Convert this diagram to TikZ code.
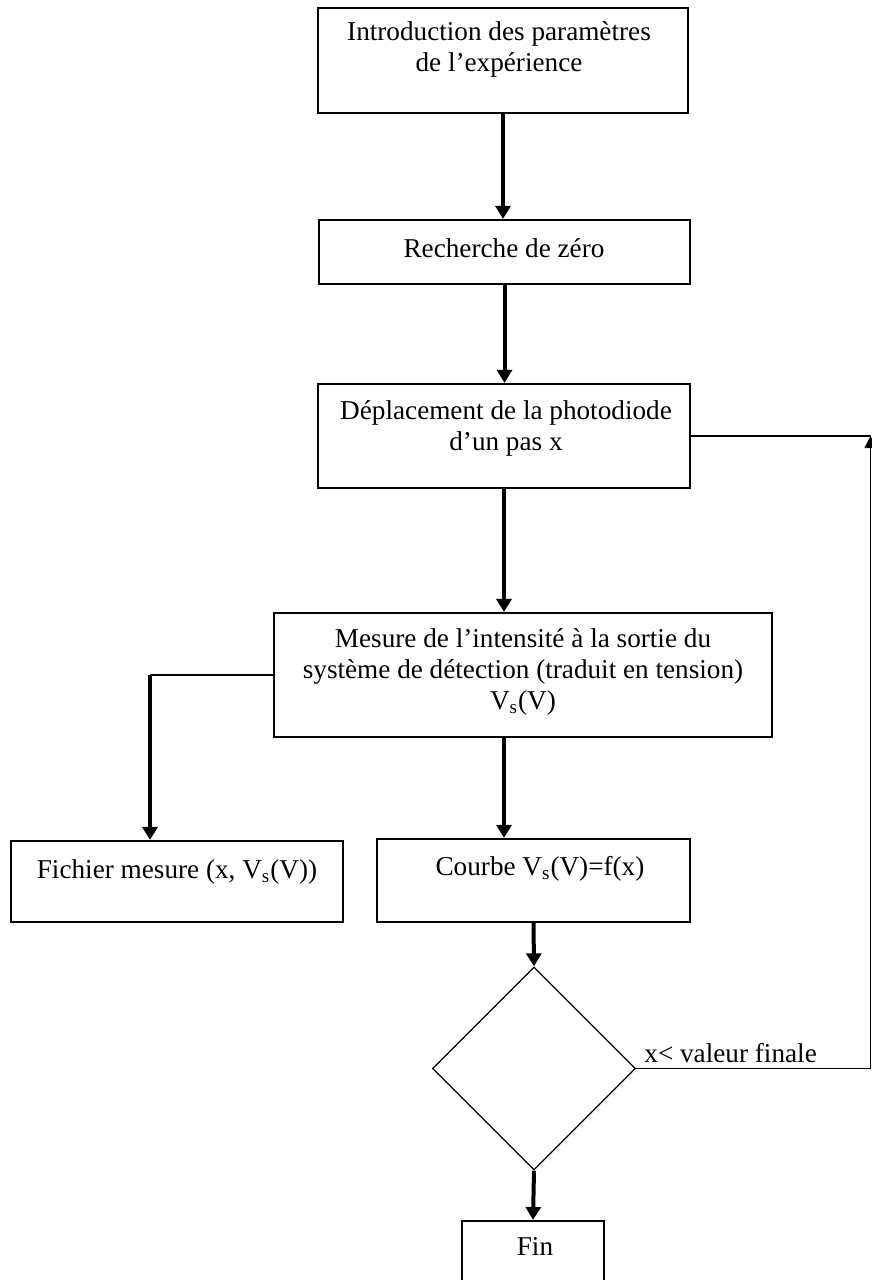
\documentclass[tikz,border=0pt]{standalone}
\usepackage{fontspec}
\setmainfont{Liberation Serif}
\usetikzlibrary{calc,shapes.geometric,arrows.meta}

\begin{document}
\begin{tikzpicture}[x=0.5pt, y=-0.5pt, line join=miter,
    boite/.style={draw, line width=1.1pt, inner sep=0pt},
    texte/.style={anchor=north, inner sep=0pt, align=center, font=\fontsize{13.6}{15.5}\selectfont},
    fleche/.style={line width=2pt, -{Triangle[length=6.5pt, width=7.5pt]}},
    trait/.style={line width=0.75pt}]
    \useasboundingbox (0,0) rectangle (872,1280);
    \clip (0,0) rectangle (872,1280);
    \coordinate (gx) at (150,675);
    \coordinate (dx) at (870.5,0);
    % boites
    \node[boite, minimum width=185pt, minimum height=52.5pt] (intro) at (503,60.5) {};
    \node[boite, minimum width=185.5pt, minimum height=32pt] (zero) at (504.5,252) {};
    \node[boite, minimum width=186pt, minimum height=52pt] (depl) at (504,436) {};
    \node[boite, minimum width=249pt, minimum height=62pt] (mes) at (523,675) {};
    \node[boite, minimum width=166pt, minimum height=40.5pt] (fich) at (177,881.5) {};
    \node[boite, minimum width=156.5pt, minimum height=41.5pt] (courbe) at (533.5,880.5) {};
    \node[draw, line width=0.65pt, shape=diamond, inner sep=0pt,
        minimum width=101.5pt, minimum height=101.5pt] (test) at (534,1068.5) {};
    \node[boite, minimum width=71pt, minimum height=39.5pt] (fin) at (533,1260.5) {};
    % textes
    \node[texte] (tintro) at (499,21) {Introduction des paramètres\\de l’expérience};
    \node[texte] (tzero) at (504,238) {Recherche de zéro};
    \node[texte] (tdepl) at (506,400) {Déplacement de la photodiode\\d’un pas x};
    \node[texte] (tmes) at (523,628) {Mesure de l’intensité à la sortie du\\système de détection (traduit en tension)\\V\textsubscript{s}(V)};
    \node[texte] (tfich) at (177,859) {Fichier mesure (x, V\textsubscript{s}(V))};
    \node[texte] (tcourbe) at (540,856) {Courbe V\textsubscript{s}(V)=f(x)};
    \node[texte] (tfin) at (535,1237) {Fin};
    \node[texte, anchor=base west] (tcond) at (644,1062) {x< valeur finale};
    % fleches
    \draw[fleche] (intro.south) -- (intro.south |- zero.north);
    \draw[fleche] (zero.south) -- (zero.south |- depl.north);
    \draw[fleche] (depl.south) -- (depl.south |- mes.north);
    \draw[trait] (mes.west) -- (gx);
    \draw[fleche] (gx) -- (gx |- fich.north);
    \draw[fleche] (mes.south -| depl) -- (courbe.north -| depl);
    \draw[fleche] (courbe.south) -- (test.north);
    \draw[fleche] (test.south) -- (fin.north);
    % boucle
    \draw[trait] (test.east) -- (test.east -| dx);
    \draw[trait, -{Triangle[length=6pt, width=6pt]}] (test.east -| dx) -- (depl.east -| dx);
    \draw[trait] (depl.east -| dx) -- (depl.east);
\end{tikzpicture}
\end{document}
